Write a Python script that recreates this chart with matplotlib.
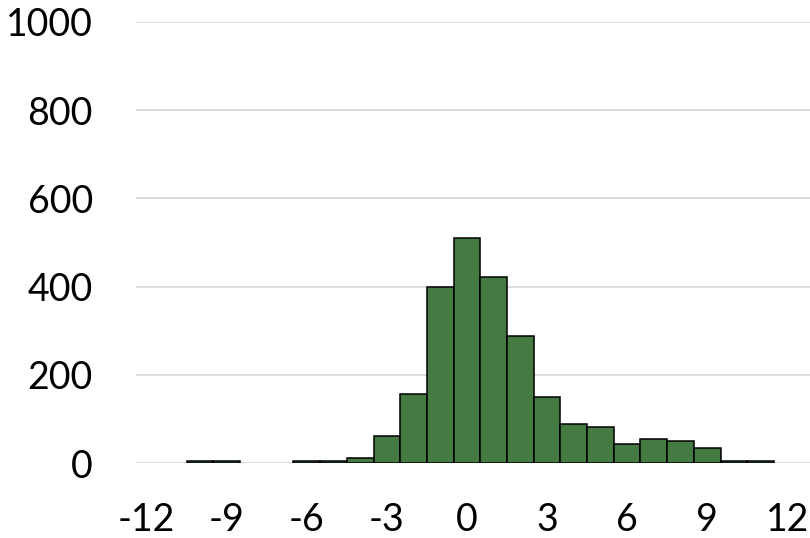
import numpy as np
import matplotlib
matplotlib.use("Agg")
import matplotlib.pyplot as plt

# bin centres (width 1) and counts
bin_centers = [-10, -9, -6, -5, -4, -3, -2, -1, 0, 1, 2, 3, 4, 5, 6, 7, 8, 9, 10, 11]
counts = [4, 4, 4, 5, 11, 61, 156, 400, 511, 422, 288, 150, 89, 82, 44, 55, 50, 34, 4, 4]
x_ticks = [-12, -9, -6, -3, 0, 3, 6, 9, 12]
y_ticks = [0, 200, 400, 600, 800, 1000]

plt.rcParams['font.family'] = ['Lato', 'DejaVu Sans']

fig = plt.figure(figsize=(8.1, 5.38), dpi=100)
ax = fig.add_axes([136 / 810, (538 - 463) / 538, 1 - 136 / 810, (463 - 22) / 538])

ax.bar(bin_centers, counts, width=1.0, color='#467a43', edgecolor='black',
       linewidth=1.1, zorder=3)

ax.set_xlim(-12.4, 12.85)
ax.set_ylim(0, 1000)
ax.set_xticks(x_ticks)
ax.set_xticklabels([str(t) for t in x_ticks])
ax.set_yticks(y_ticks)
ax.yaxis.grid(True, color='#d9d9d9', linewidth=1.3, zorder=0)
ax.set_axisbelow(True)

for s in ax.spines.values():
    s.set_visible(False)
ax.tick_params(axis='both', length=0, labelsize=27)
ax.tick_params(axis='x', pad=28)
ax.tick_params(axis='y', pad=31)

fig.savefig('out.png', dpi=100)
